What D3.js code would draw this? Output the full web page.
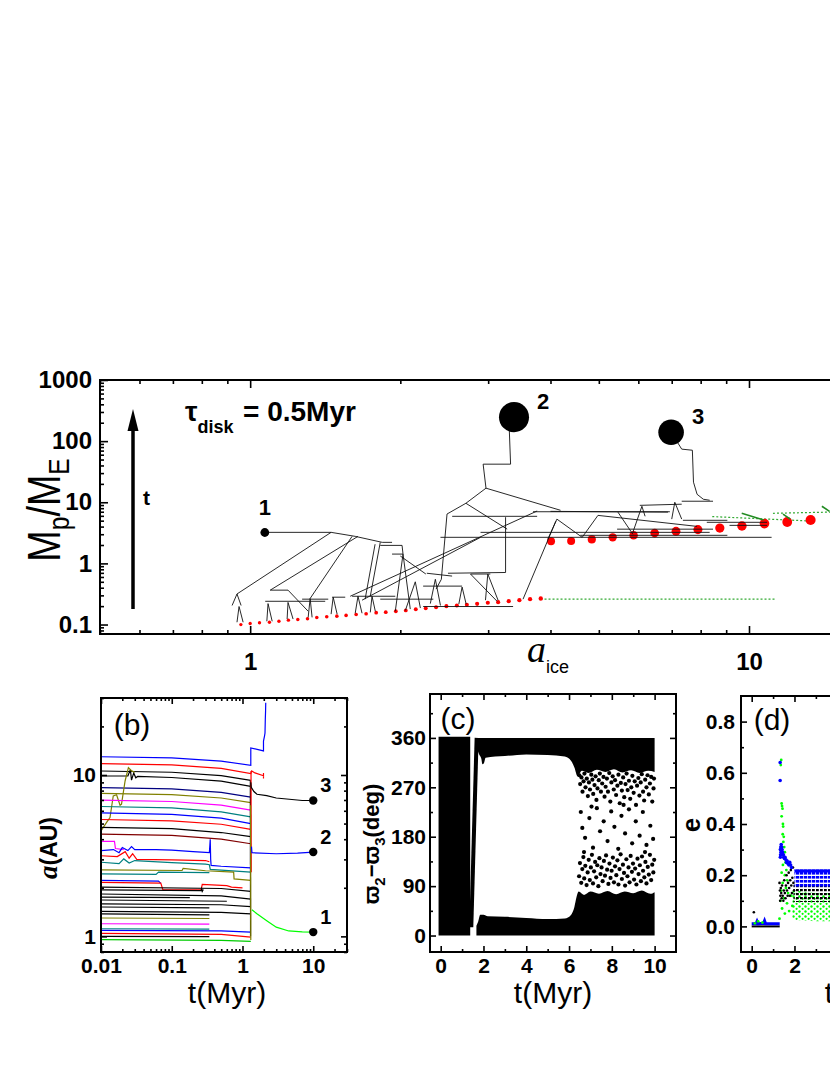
<!DOCTYPE html>
<html><head><meta charset="utf-8">
<script src="https://cdn.jsdelivr.net/npm/d3@7"></script>
<style>body{margin:0;background:#fff}svg{display:block}text{font-family:Arial,"Liberation Sans",sans-serif}</style>
</head><body><svg width="830" height="1075"></svg>
<script>
// ================= DATA =================
// ---- panel (a): mass vs semi-major axis ----
const embryoA = [0.958,1.0,1.044,1.093,1.142,1.193,1.246,1.303,1.360,1.424,1.492,1.557,1.631,1.708,1.789,1.870,1.959,2.051,2.148,2.249,2.359,2.474,2.596,2.719,2.851,2.995,3.141,3.299,3.465,3.640,3.824];
const embryoM = [0.100,0.104,0.107,0.109,0.113,0.118,0.121,0.124,0.130,0.134,0.137,0.141,0.146,0.150,0.156,0.159,0.165,0.170,0.178,0.185,0.192,0.200,0.205,0.210,0.218,0.227,0.232,0.241,0.250,0.260,0.267];
const coreA = [4.01,4.40,4.84,5.33,5.87,6.47,7.14,7.90,8.74,9.68,10.74,11.93,13.29];
const coreM = [2.30,2.32,2.47,2.67,2.88,3.14,3.35,3.57,3.79,4.09,4.48,4.76,5.13];
const planetA = [1.07,3.38,6.98];
const planetM = [3.2,247,140];
const planetNames = ["1","2","3"];
const treeTracks = [
 [[1.072,3.22],[1.453,3.22]],
 [[1.453,3.22],[0.941,0.316]],
 [[1.453,3.22],[1.624,2.77],[1.840,2.21],[1.925,2.21]],
 [[1.645,2.77],[1.097,0.365],[1.191,0.365],[1.307,0.165]],
 [[1.601,2.77],[1.319,0.267]],
 [[1.823,2.21],[1.741,0.29]],
 [[1.78,2.06],[1.70,0.26]],
 [[0.920,0.205],[0.941,0.316],[0.959,0.205]],
 [[0.941,0.109],[0.950,0.197],[0.968,0.109]],
 [[1.080,0.113],[1.086,0.22],[1.107,0.113]],
 [[1.186,0.123],[1.191,0.23],[1.219,0.123]],
 [[1.307,0.131],[1.319,0.267],[1.331,0.131]],
 [[1.453,0.148],[1.467,0.28],[1.494,0.148]],
 [[1.624,0.153],[1.645,0.29],[1.676,0.153]],
 [[1.741,0.158],[1.755,0.29],[1.782,0.165]],
 [[1.072,0.24],[1.414,0.24]],
 [[1.46,0.28],[1.551,0.28]],
 [[1.601,0.29],[1.954,0.29]],
 [[1.271,0.26],[1.434,0.26]],
 [[1.587,0.29],[3.761,7.2]],
 [[1.676,0.25],[2.896,2.67]],
 [[3.30,247],[3.327,42],[2.931,42],[2.970,17]],
 [[2.970,17],[2.707,9.63],[2.481,6.42]],
 [[2.970,17],[4.19,7.39]],
 [[2.707,9.63],[3.275,3.63]],
 [[2.481,6.42],[2.417,0.55],[2.359,0.38]],
 [[2.541,5.89],[3.761,5.89]],
 [[2.407,2.67],[11.1,2.67]],
 [[2.896,3.22],[8.34,3.22]],
 [[3.69,7.0],[6.94,7.0]],
 [[3.251,5.7],[3.251,0.71],[2.492,0.69]],
 [[4.10,4.9],[3.524,0.26]],
 [[1.823,1.97],[2.016,1.97],[2.025,1.42]],
 [[1.954,0.165],[2.025,1.42],[2.094,0.179]],
 [[1.925,1.42],[2.025,1.42]],
 [[2.047,0.17],[2.143,0.5],[2.194,0.186]],
 [[2.297,0.22],[2.351,0.55],[2.407,0.205]],
 [[2.62,0.216],[2.66,0.41],[2.71,0.216]],
 [[2.765,0.67],[3.126,0.24]],
 [[2.963,0.25],[2.995,0.67],[3.14,0.25]],
 [[2.26,0.69],[2.54,0.62]],
 [[2.222,0.197],[3.366,0.197]],
 [[2.222,0.425],[2.66,0.425]],
 [[1.823,0.26],[2.329,0.26]],
 [[2.765,0.67],[3.03,0.67]],
 [[2.0,1.32],[2.25,0.67]],
 [[6.98,140],[7.33,74],[7.70,71],[7.74,21.3],[7.87,13.5],[8.1,11.2],[8.34,10.8]],
 [[7.33,10.4],[8.47,10.4]],
 [[7.00,5.3],[7.10,10.0],[7.33,5.3]],
 [[6.04,8.9],[7.33,9.3]],
 [[5.85,3.22],[6.10,8.6],[6.19,5.9]],
 [[4.0,7.1],[6.88,6.9]],
 [[4.63,2.67],[4.98,6.1],[7.87,4.03]],
 [[3.95,2.49],[4.12,5.3],[4.63,2.67]],
 [[5.46,6.9],[5.85,3.0]],
 [[5.44,3.63],[8.47,3.63]],
 [[4.59,2.88],[9.05,2.88]],
 [[7.37,5.07],[9.05,5.07]],
 [[8.23,4.7],[10.87,4.7]],
 [[9.14,4.19],[10.87,4.19]]
];
const greenDotted = [
 [[3.82,0.26],[11.26,0.26]],
 [[8.44,5.83],[13.25,4.94]],
 [[11.17,6.6],[14.5,6.9],[20,7.3]]
];
const greenSolid = [
 [[9.67,6.6],[10.7,5.13]],
 [[11.7,6.4],[12.1,5.3]],
 [[14.0,8.6],[14.5,7.1]]
];
const aXMajor = [1,10], aXMinor = [0.5,0.6,0.7,0.8,0.9,2,3,4,5,6,7,8,9,20,30];
const aYMajor = [0.1,1,10,100,1000];
const aYMinor = [0.08,0.09,0.2,0.3,0.4,0.5,0.6,0.7,0.8,0.9,2,3,4,5,6,7,8,9,20,30,40,50,60,70,80,90,200,300,400,500,600,700,800,900];

// ---- panel (b): a(AU) vs t(Myr) ----
const bTracks = [
 [[0.01,12.97],[0.1,12.75],[0.5,12.2],[1.31,11.47],[1.31,14.7],[1.98,14.1],[1.98,16.2],[2.05,17.5],[2.08,18.2],[2.1,22],[2.12,25],[2.13,28]],
 [[0.01,11.75],[0.1,11.55],[0.5,11.0],[1.31,10.19],[1.35,10.6],[1.5,10.3],[1.98,9.9],[1.98,10.3],[1.98,9.5]],
 [[0.01,10.59],[0.1,10.4],[0.5,9.9],[1.31,9.25]],
 [[0.01,9.86],[0.024,9.86],[0.026,10.8],[0.027,9.3],[0.029,10.3],[0.031,9.6],[0.033,9.8],[0.1,9.65],[0.5,9.15],[1.31,8.5]],
 [[0.01,8.35],[0.1,8.2],[0.5,7.8],[1.31,7.3]],
 [[0.01,7.7],[0.1,7.55],[0.5,7.2],[1.31,6.75]],
 [[0.01,4.51],[0.012,5.08],[0.0134,5.45],[0.0149,7.42],[0.0166,7.55],[0.0186,6.5],[0.0195,6.6],[0.0219,9.18],[0.0244,11.1],[0.0272,10.6],[0.03,10.4]],
 [[0.01,6.98],[0.1,6.85],[0.5,6.5],[1.31,6.05]],
 [[0.01,6.38],[0.1,6.25],[0.5,5.9],[1.31,5.5]],
 [[0.01,5.83],[0.1,5.7],[0.5,5.4],[1.31,5.0]],
 [[0.01,5.30],[0.1,5.2],[0.5,4.95],[1.31,4.6]],
 [[0.01,4.73],[0.1,4.65],[0.5,4.4],[1.31,4.15]],
 [[0.01,4.30],[0.1,4.22],[0.5,4.0],[1.31,3.75]],
 [[0.01,3.88],[0.0155,3.88],[0.016,3.5],[0.021,3.45]],
 [[0.01,3.4],[0.015,3.45],[0.018,3.3],[0.02,3.55],[0.024,3.4],[0.027,3.6],[0.03,3.45],[0.06,3.45],[0.1,3.42],[0.2,3.35],[0.34,3.3],[0.35,4.0],[0.355,3.0],[0.36,2.75],[0.5,2.72],[1.31,2.66]],
 [[0.01,3.16],[0.017,3.12],[0.022,3.35],[0.025,3.05],[0.028,3.25],[0.032,3.0],[0.1,2.98],[0.3,2.95],[0.34,2.9]],
 [[0.01,2.88],[0.018,2.82],[0.021,3.02],[0.025,2.85],[0.03,2.95],[0.1,2.86],[0.3,2.8],[0.34,2.78],[0.35,2.6],[1.31,2.5]],
 [[0.01,2.58],[0.14,2.56],[0.145,2.64],[0.3,2.55],[0.75,2.5],[0.76,2.27],[1.31,2.22]],
 [[0.01,2.44],[0.06,2.42],[0.065,2.5],[0.34,2.48]],
 [[0.01,2.22],[0.065,2.2],[0.07,2.13]],
 [[0.01,2.16],[0.07,2.14],[0.075,1.94],[0.26,1.94],[0.27,2.1],[0.6,2.06],[0.7,2.02],[1.0,2.0]],
 [[0.01,2.02],[0.5,1.98],[1.31,1.9]],
 [[0.01,1.94],[0.26,1.92],[0.265,1.97],[0.27,1.9],[0.28,1.95]],
 [[0.01,1.83],[0.5,1.78],[1.31,1.7]],
 [[0.01,1.75],[0.18,1.74]],
 [[0.01,1.68],[0.6,1.65]],
 [[0.01,1.59],[0.5,1.57],[1.31,1.53]],
 [[0.01,1.52],[0.34,1.5]],
 [[0.01,1.43],[0.5,1.41],[1.31,1.38]],
 [[0.01,1.38],[0.34,1.36]],
 [[0.01,1.30],[0.34,1.29]],
 [[0.01,1.197],[0.34,1.19]],
 [[0.01,1.115],[0.34,1.11]],
 [[0.01,1.089],[0.5,1.08],[1.31,1.063]],
 [[0.01,1.0],[0.34,0.995]],
 [[0.01,1.045],[0.5,1.03],[1.31,0.99]],
 [[0.01,0.954],[0.5,0.945],[1.31,0.931]],
 [[1.29,9.25],[1.30,1.0]],
 [[1.32,10.6],[1.33,2.5]],
 [[1.30,6.5],[1.31,0.95]],
 [[1.36,1.46],[1.6,1.38],[2.2,1.25],[3.0,1.14],[4.5,1.08],[7,1.065],[10,1.063]],
 [[1.34,3.6],[1.36,3.3],[3,3.25],[6,3.28],[10,3.33]],
 [[1.31,9.0],[1.33,8.4],[1.45,7.9],[1.6,7.6],[2.2,7.45],[3.0,7.2],[5,7.05],[7,6.95],[10,6.95]]
];
const bColors = ["#0000ff","#ff0000","#000000","#000000","#000080","#808000","#808000","#ff00ff","#008080","#0000ff","#ff0000","#000000","#800000","#ff00ff","#0000ff","#ff0000","#008080","#808000","#008080","#0000ff","#ff0000","#000000","#000000","#000000","#000000","#000000","#000000","#000000","#000000","#000000","#808000","#ff00ff","#008080","#0000ff","#000000","#ff0000","#00cc00","#000000","#ff0000","#808000","#00ff00","#0000ff","#000000"];
const bPlanetT = [10,10,10], bPlanetA = [1.063,3.33,6.95];
const bXMajor = [0.01,0.1,1,10], bXMinor = [0.02,0.03,0.04,0.05,0.06,0.07,0.08,0.09,0.2,0.3,0.4,0.5,0.6,0.7,0.8,0.9,2,3,4,5,6,7,8,9,20,30];
const bYMajor = [1,10], bYMinor = [0.8,0.9,2,3,4,5,6,7,8,9,20,30];

// ---- panel (c): varpi2 - varpi3 vs t ----
const cLeftBlock = [[-0.1,0,362],[1.38,0,362]];
const cStreak = [[1.43,15],[1.68,360]];
const cTopBand = [[1.67,360,345],[1.8,360,330],[1.9,360,322],[1.95,360,312],[2.02,360,314],[2.1,360,324],[3,360,327],[4,360,330],[5,360,329],[5.8,360,326],[6.1,360,318],[6.25,360,306],[6.4,360,290],[6.6,360,300],[6.9,360,296],[7.3,360,302],[7.7,360,298],[8.1,360,303],[8.5,360,297],[8.9,360,301],[9.3,360,296],[9.7,360,300],[10.0,360,298]];
const cBottomBand = [[1.67,0,18],[1.75,0,25],[1.85,0,38],[2.0,0,38],[2.2,0,35],[3,0,34],[4,0,32],[5,0,30],[5.8,0,31],[6.1,0,38],[6.25,0,52],[6.35,0,70],[6.45,0,80],[6.7,0,74],[7.0,0,80],[7.4,0,76],[7.8,0,81],[8.2,0,75],[8.6,0,80],[9.0,0,77],[9.4,0,82],[9.8,0,76],[10.0,0,79]];
const cScatter = [
 [6.48,292],[6.52,276],[6.58,288],[6.63,262],[6.68,281],[6.72,295],[6.77,270],[6.83,286],[6.88,254],[6.93,279],[6.98,266],[7.04,293],[7.09,284],[7.13,258],[7.19,274],[7.24,290],[7.28,247],[7.33,268],[7.39,283],[7.44,295],[7.49,262],[7.55,277],[7.61,289],[7.66,253],[7.71,271],[7.77,286],[7.82,262],[7.88,296],[7.93,244],[7.98,279],[8.04,290],[8.09,266],[8.15,283],[8.2,256],[8.26,273],[8.31,293],[8.37,241],[8.42,278],[8.47,264],[8.53,288],[8.58,252],[8.64,276],[8.69,295],[8.74,265],[8.8,282],[8.86,249],[8.91,270],[8.96,291],[9.02,260],[9.07,281],[9.13,238],[9.18,273],[9.24,287],[9.29,255],[9.35,279],[9.4,294],[9.46,262],[9.51,246],[9.56,284],[9.62,270],[9.67,292],[9.73,257],[9.78,277],[9.84,289],[9.89,244],[9.95,268],[9.97,286],
 [6.55,225],[6.62,196],[6.75,178],[6.95,214],[7.12,160],[7.3,232],[7.45,190],[7.62,208],[7.8,172],[7.97,226],[8.12,198],[8.3,158],[8.45,218],[8.62,186],[8.8,230],[8.95,168],[9.12,208],[9.3,182],[9.45,225],[9.62,165],[9.8,200],[9.93,176],[7.05,235],[8.55,238],[9.55,152],[6.7,152],
 [6.47,108],[6.51,132],[6.57,96],[6.62,121],[6.67,143],[6.71,104],[6.76,127],[6.82,92],[6.87,115],[6.92,138],[6.97,101],[7.02,124],[7.07,147],[7.12,95],[7.17,117],[7.22,134],[7.27,106],[7.32,128],[7.37,90],[7.42,141],[7.47,112],[7.52,124],[7.57,99],[7.63,136],[7.68,109],[7.73,146],[7.78,120],[7.84,94],[7.89,131],[7.94,105],[7.99,118],[8.05,142],[8.1,97],[8.15,126],[8.21,110],[8.26,137],[8.31,93],[8.36,121],[8.41,148],[8.47,103],[8.52,129],[8.57,114],[8.62,91],[8.68,139],[8.73,108],[8.78,124],[8.83,97],[8.88,145],[8.94,116],[8.99,131],[9.04,102],[9.09,122],[9.15,93],[9.2,140],[9.25,112],[9.31,128],[9.36,99],[9.41,144],[9.46,118],[9.52,106],[9.57,134],[9.62,95],[9.68,125],[9.73,111],[9.78,147],[9.84,101],[9.89,129],[9.94,115],[9.98,138]];
const cXMajor = [0,2,4,6,8,10], cXMinor = [1,3,5,7,9];
const cYMajor = [0,90,180,270,360], cYMinor = [45,135,225,315,405];

// ---- panel (d): eccentricity vs t ----
const dBlueEarly = [[0,0.01],[0.2,0.01],[0.25,0.02],[0.3,0.01],[0.55,0.012],[0.6,0.022],[0.65,0.01],[1.31,0.01]];
const dBlackEarly = [[0,0.0],[1.31,0.0]];
const dGreenPts = [[0.15,0.012],[0.3,0.02],[0.5,0.015],[1.38,0.65],[1.36,0.63],[1.40,0.48],[1.42,0.47],[1.44,0.46],[1.40,0.43],[1.46,0.40],[1.47,0.39],[1.45,0.36],[1.50,0.35],[1.48,0.33],[1.52,0.31],[1.55,0.29],[1.50,0.27],[1.58,0.25],[1.46,0.24],[1.62,0.22],[1.40,0.21],[1.55,0.2],[1.66,0.18],[1.45,0.17],[1.60,0.15],[1.38,0.14],[1.70,0.13],[1.50,0.11],[1.35,0.10],[1.65,0.09],[1.42,0.07],[1.75,0.06],[1.55,0.05],[1.30,0.03],[1.85,0.12],[1.9,0.08]];
const dBluePts = [[1.33,0.64],[1.33,0.57],[1.34,0.30],[1.36,0.31],[1.38,0.32],[1.40,0.31],[1.42,0.30],[1.44,0.29],[1.46,0.28],[1.48,0.28],[1.50,0.27],[1.53,0.265],[1.56,0.27],[1.60,0.26],[1.63,0.25],[1.66,0.255],[1.70,0.245],[1.74,0.24],[1.78,0.25],[1.82,0.24],[1.86,0.23],[1.35,0.28],[1.37,0.29],[1.34,0.27]];
const dBlackPts = [[0.1,0.055],[1.30,0.17],[1.32,0.14],[1.34,0.12],[1.33,0.10],[1.36,0.15],[1.38,0.13],[1.40,0.11],[1.42,0.16],[1.45,0.12],[1.48,0.10],[1.50,0.14],[1.52,0.18],[1.55,0.13],[1.58,0.11],[1.60,0.16],[1.63,0.20],[1.65,0.14],[1.68,0.12],[1.70,0.17],[1.73,0.21],[1.75,0.15],[1.78,0.12],[1.80,0.18],[1.83,0.22],[1.85,0.16],[1.88,0.13],[1.90,0.19],[1.93,0.23],[1.95,0.17],[1.98,0.14]];
const dGreenBand = [[1.9,0.03,0.15],[2.0,0.025,0.14],[3,0.02,0.13],[10,0.02,0.13]];
const dBlackBand = [[1.95,0.095,0.165],[3,0.095,0.16],[10,0.095,0.16]];
const dBlueBand = [[2.0,0.15,0.222],[10,0.15,0.222]];
const dBlueTop = [[2.0,0.211,0.222],[10,0.211,0.222]];
const dXMajor = [0,2,4,6,8,10], dXMinor = [1,3,5,7,9];
const dYMajor = [0,0.2,0.4,0.6,0.8], dYMinor = [0.1,0.3,0.5,0.7];

// ================= DRAW =================
const W = 830;
const svg = d3.select("svg");
const defs = svg.append("defs");
function clip(id, x, y){ const [a,b]=x.range(), [c,d]=y.range();
  defs.append("clipPath").attr("id",id).append("rect").attr("x",a).attr("y",d).attr("width",b-a).attr("height",c-d); }
const pat = (id,w,h,draw)=>{ const p=defs.append("pattern").attr("id",id).attr("width",w).attr("height",h).attr("patternUnits","userSpaceOnUse"); draw(p); };
pat("pBlue",4,4,p=>p.append("rect").attr("width",3.3).attr("height",2.6).attr("fill","#0000ff"));
pat("pBlack",4,4,p=>p.append("rect").attr("y",1).attr("width",2.8).attr("height",2.2).attr("fill","#000"));
pat("pGreen",6,5,p=>{p.append("circle").attr("cx",1.5).attr("cy",1.5).attr("r",1.2).attr("fill","#00ff00");p.append("circle").attr("cx",4.6).attr("cy",3.8).attr("r",1.1).attr("fill","#00ff00");});

function drawAxes(x, y, o){
  const g = svg.append("g");
  const [xL,xR]=x.range(), [yB,yT]=y.range();
  const ML=o.ml||7, mL=o.mil||4;
  const st = sel => { sel.select(".domain").remove(); sel.attr("font-size",null).attr("font-family",null);
    sel.selectAll(".tick line").attr("stroke","#000").attr("stroke-width",1.6);
    sel.selectAll(".tick text").attr("fill","#000").attr("font-weight","bold").attr("font-size",o.fs)
      .style("font-family","Arial,'Liberation Sans',sans-serif"); };
  const ax = (fn, tr, vals, len, fmt, pad) => g.append("g").attr("transform",tr)
      .call(fn.tickValues(vals).tickSize(-len).tickSizeOuter(0).tickPadding(pad||0).tickFormat(fmt)).call(st);
  // only label ticks that fall inside the page
  const xf = d => x(d) < W - 8 ? o.xFmt(d) : "";
  ax(d3.axisBottom(x), `translate(0,${yB})`, o.xMaj, ML, xf, o.xPad);
  ax(d3.axisBottom(x), `translate(0,${yB})`, o.xMin, mL, "");
  ax(d3.axisTop(x), `translate(0,${yT})`, o.xMaj, ML, "");
  ax(d3.axisTop(x), `translate(0,${yT})`, o.xMin, mL, "");
  ax(d3.axisLeft(y), `translate(${xL},0)`, o.yMaj, ML, o.yFmt, o.yPad);
  ax(d3.axisLeft(y), `translate(${xL},0)`, o.yMin, mL, "");
  ax(d3.axisRight(y), `translate(${xR},0)`, o.yMaj, ML, "");
  ax(d3.axisRight(y), `translate(${xR},0)`, o.yMin, mL, "");
  g.append("rect").attr("x",xL).attr("y",yT).attr("width",xR-xL).attr("height",yB-yT)
    .attr("fill","none").attr("stroke","#000").attr("stroke-width",2);
}
function txt(x,y,s,o={}){ const t=svg.append("text").attr("x",x).attr("y",y).text(s).attr("fill","#000");
  if(o.size) t.attr("font-size",o.size); if(o.bold) t.attr("font-weight","bold"); if(o.anchor) t.attr("text-anchor",o.anchor);
  if(o.family) t.style("font-family",o.family); if(o.italic) t.attr("font-style","italic"); return t; }

// ---------- Panel (a) ----------
const xa = d3.scaleLog().domain([0.5,30]).range([100,987]);
const ya = d3.scaleLog().domain([0.07,1000]).range([634,380]);
const rA = d3.scalePow().exponent(0.283).domain([0,1]).range([0,3.16]);
clip("clipA", xa, ya);
const gA = svg.append("g").attr("clip-path","url(#clipA)");
const lineA = d3.line().x(d=>xa(d[0])).y(d=>ya(d[1]));
gA.selectAll(".gd").data(greenDotted).join("path").attr("d",lineA).attr("fill","none")
  .attr("stroke","#33aa33").attr("stroke-width",1.2).attr("stroke-dasharray","2,2");
gA.selectAll(".emb").data(embryoA).join("circle").attr("cx",d=>xa(d)).attr("cy",(d,i)=>ya(embryoM[i]))
  .attr("r",(d,i)=>rA(embryoM[i])).attr("fill","#ff0000");
gA.selectAll(".core").data(coreA).join("circle").attr("cx",d=>xa(d)).attr("cy",(d,i)=>ya(coreM[i]))
  .attr("r",(d,i)=>rA(coreM[i])).attr("fill","#ff0000");
gA.selectAll(".tr").data(treeTracks).join("path").attr("d",lineA).attr("fill","none")
  .attr("stroke","#111").attr("stroke-width",0.9);
gA.selectAll(".gs").data(greenSolid).join("path").attr("d",lineA).attr("fill","none")
  .attr("stroke","#228b22").attr("stroke-width",1.6);
gA.selectAll(".pl").data(planetA).join("circle").attr("cx",d=>xa(d)).attr("cy",(d,i)=>ya(planetM[i]))
  .attr("r",(d,i)=>rA(planetM[i])).attr("fill","#000");
drawAxes(xa, ya, {xMaj:aXMajor, xMin:aXMinor, yMaj:aYMajor, yMin:aYMinor, xFmt:d=>String(d), yFmt:d=>String(d),
  fs:24, xPad:19, yPad:8, ml:8, mil:4});
const plOff = [[-6,-18],[23,-8],[21,-8]];
planetA.forEach((a,i)=>txt(xa(a)+plOff[i][0], ya(planetM[i])+plOff[i][1], planetNames[i], {size:22,bold:true}));
svg.append("line").attr("x1",133).attr("y1",609).attr("x2",133).attr("y2",428).attr("stroke","#000").attr("stroke-width",3.5);
svg.append("path").attr("d","M133,409 L127.5,431 L138.5,431 Z").attr("fill","#000");
txt(143,505,"t",{size:21,bold:true});
const tau = svg.append("text").attr("x",185).attr("y",421).attr("font-weight","bold").attr("fill","#000");
tau.append("tspan").attr("font-size",28).text("τ");
tau.append("tspan").attr("font-size",18).attr("dy",12).text("disk");
tau.append("tspan").attr("font-size",28).attr("x",243).attr("dy",-12).text("= 0.5Myr");
const ml = svg.append("text").attr("transform","translate(60,510) rotate(-90) scale(0.82,1)").attr("text-anchor","middle").attr("fill","#000").attr("font-size",46);
ml.append("tspan").text("M");
ml.append("tspan").attr("font-size",30).attr("dy",9).text("p");
ml.append("tspan").attr("dy",-9).text("/M");
ml.append("tspan").attr("font-size",30).attr("dy",9).text("E");
txt(527,662,"a",{size:38,italic:true,family:"'Liberation Serif','Times New Roman',serif"});
txt(546,673,"ice",{size:18});

// ---------- Panel (b) ----------
const xb = d3.scaleLog().domain([0.01,30]).range([101,347]);
const yb = d3.scaleLog().domain([0.8,30]).range([952,698]);
clip("clipB", xb, yb);
const gB = svg.append("g").attr("clip-path","url(#clipB)");
const lineB = d3.line().x(d=>xb(d[0])).y(d=>yb(d[1]));
gB.selectAll(".bt").data(bTracks).join("path").attr("d",lineB).attr("fill","none")
  .attr("stroke",(d,i)=>bColors[i]).attr("stroke-width",1.2);
gB.selectAll(".bp").data(bPlanetT).join("circle").attr("cx",d=>xb(d)).attr("cy",(d,i)=>yb(bPlanetA[i])).attr("r",4.2).attr("fill","#000");
drawAxes(xb, yb, {xMaj:bXMajor, xMin:bXMinor, yMaj:bYMajor, yMin:bYMinor, xFmt:d=>String(d), yFmt:d=>String(d),
  fs:21, xPad:6, yPad:5, ml:6, mil:3});
[["3",2],["2",1],["1",0]].forEach(([s,i])=>txt(xb(bPlanetT[i])+7, yb(bPlanetA[i])-8, s, {size:20,bold:true}));
txt(132,735,"(b)",{size:30,anchor:"middle"});
txt(227,1003,"t(Myr)",{size:30,anchor:"middle"});
const al = svg.append("text").attr("transform","translate(57,848) rotate(-90)").attr("text-anchor","middle").attr("fill","#000").attr("font-size",23).attr("font-weight","bold");
al.append("tspan").attr("font-style","italic").style("font-family","'Liberation Serif','Times New Roman',serif").attr("font-size",27).text("a");
al.append("tspan").text("(AU)");

// ---------- Panel (c) ----------
const xc = d3.scaleLinear().domain([-0.5,11]).range([430,676]);
const yc = d3.scaleLinear().domain([-30,440]).range([952,694]);
clip("clipC", xc, yc);
const gC = svg.append("g").attr("clip-path","url(#clipC)");
const areaC = d3.area().x(d=>xc(d[0])).y0(d=>yc(d[1])).y1(d=>yc(d[2])).curve(d3.curveMonotoneX);
[cLeftBlock, cTopBand, cBottomBand].forEach(b=>gC.append("path").datum(b).attr("d",areaC).attr("fill","#000"));
gC.append("path").datum(cStreak).attr("d",d3.line().x(d=>xc(d[0])).y(d=>yc(d[1]))).attr("stroke","#000").attr("stroke-width",4).attr("fill","none");
gC.selectAll(".cs").data(cScatter).join("circle").attr("cx",d=>xc(d[0])).attr("cy",d=>yc(d[1])).attr("r",2.1).attr("fill","#000");
drawAxes(xc, yc, {xMaj:cXMajor, xMin:cXMinor, yMaj:cYMajor, yMin:cYMinor, xFmt:d=>String(d), yFmt:d=>String(d),
  fs:21, xPad:6, yPad:4, ml:6, mil:3});
txt(458,729,"(c)",{size:30,anchor:"middle"});
txt(553,1003,"t(Myr)",{size:30,anchor:"middle"});
const vl = svg.append("text").attr("transform","translate(379,844) rotate(-90)").attr("text-anchor","middle").attr("fill","#000").attr("font-size",22).attr("font-weight","bold");
vl.append("tspan").text("ϖ");
vl.append("tspan").attr("font-size",15).attr("dy",6).text("2");
vl.append("tspan").attr("dy",-6).text("−ϖ");
vl.append("tspan").attr("font-size",15).attr("dy",6).text("3");
vl.append("tspan").attr("dy",-6).text("(deg)");

// ---------- Panel (d) ----------
const xd = d3.scaleLinear().domain([-0.5,11]).range([741,987]);
const yd = d3.scaleLinear().domain([-0.1,0.9]).range([952,696]);
clip("clipD", xd, yd);
const gD = svg.append("g").attr("clip-path","url(#clipD)");
const areaD = d3.area().x(d=>xd(d[0])).y0(d=>yd(d[1])).y1(d=>yd(d[2]));
const lineD = d3.line().x(d=>xd(d[0])).y(d=>yd(d[1]));
gD.append("path").datum(dGreenBand).attr("d",areaD).attr("fill","url(#pGreen)");
gD.append("path").datum(dBlackBand).attr("d",areaD).attr("fill","url(#pBlack)");
gD.append("path").datum(dBlueBand).attr("d",areaD).attr("fill","url(#pBlue)");
gD.append("path").datum(dBlueTop).attr("d",areaD).attr("fill","#0000ff");
gD.append("path").datum(dBlackEarly).attr("d",lineD).attr("stroke","#000").attr("stroke-width",2).attr("fill","none");
gD.append("path").datum(dBlueEarly).attr("d",lineD).attr("stroke","#0000ff").attr("stroke-width",3).attr("fill","none");
gD.selectAll(".dg").data(dGreenPts).join("circle").attr("cx",d=>xd(d[0])).attr("cy",d=>yd(d[1])).attr("r",1.4).attr("fill","#00ff00");
gD.selectAll(".dk").data(dBlackPts).join("circle").attr("cx",d=>xd(d[0])).attr("cy",d=>yd(d[1])).attr("r",1.3).attr("fill","#000");
gD.selectAll(".db").data(dBluePts).join("circle").attr("cx",d=>xd(d[0])).attr("cy",d=>yd(d[1])).attr("r",1.8).attr("fill","#0000ff");
drawAxes(xd, yd, {xMaj:dXMajor, xMin:dXMinor, yMaj:dYMajor, yMin:dYMinor, xFmt:d=>String(d), yFmt:d3.format(".1f"),
  fs:21, xPad:6, yPad:6, ml:6, mil:3});
txt(772,730,"(d)",{size:30,anchor:"middle"});
txt(864,1003,"t(Myr)",{size:30,anchor:"middle"});
svg.append("text").attr("transform","translate(700,825) rotate(-90)").attr("text-anchor","middle").attr("fill","#000")
  .attr("font-size",26).attr("font-weight","bold").text("e");
</script></body></html>
